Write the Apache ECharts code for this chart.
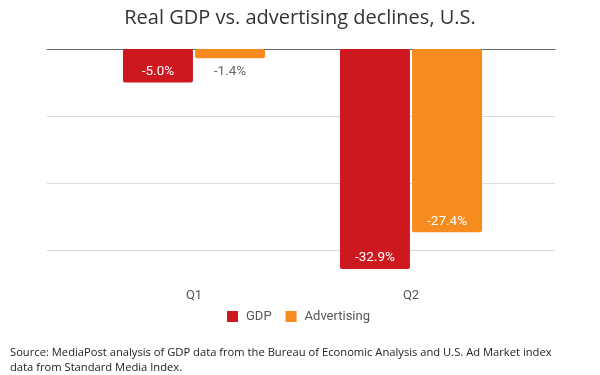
<!DOCTYPE html>
<html>
<head>
<meta charset="utf-8">
<script src="https://cdn.jsdelivr.net/npm/echarts@6/dist/echarts.min.js"></script>
<style>html,body{margin:0;padding:0;background:#fff}#c{width:600px;height:375px}</style>
</head>
<body>
<div id="c"></div>
<script>
const categories = ['Q1', 'Q2'];
const gdpValues = [-5.0, -32.9];
const adValues = [-1.4, -27.4];
const seriesNames = ['GDP', 'Advertising'];
const titleText = 'Real GDP vs. advertising declines, U.S.';
const sourceText = 'Source: MediaPost analysis of GDP data from the Bureau of Economic Analysis and U.S. Ad Market index\ndata from Standard Media Index.';

const RED = '#cd1820', ORANGE = '#f68b1f';

function mkData(vals) {
  return vals.map(v => {
    const small = Math.abs(v) < 3;
    return {
      value: v,
      label: small
        ? { position: 'bottom', distance: 6, color: '#666' }
        : { position: 'insideBottom', distance: 4, color: '#fff' }
    };
  });
}

const chart = echarts.init(document.getElementById('c'), null, { renderer: 'canvas' });
chart.setOption({
  animation: false,
  title: [
    { text: titleText, left: 'center', top: 3,
      textStyle: { fontFamily: 'Open Sans', fontWeight: 'normal', fontSize: 20, color: '#333' } },
    { text: sourceText, left: 5, top: 341,
      textStyle: { fontFamily: 'Open Sans', fontWeight: 'normal', fontSize: 11.2, lineHeight: 14.5, color: '#222' } }
  ],
  legend: {
    data: seriesNames, top: 305, left: 222, icon: 'rect',
    itemWidth: 11, itemHeight: 11, itemGap: 14,
    textStyle: { fontFamily: 'Roboto', fontSize: 13, color: '#555', padding: [0, 0, 0, 3] }
  },
  grid: [
    { left: 47, right: 45, top: 49, bottom: 58 },
    { left: 85.5, right: 80.5, top: 49, bottom: 92 }
  ],
  xAxis: [
    { gridIndex: 0, type: 'category', data: categories, position: 'top',
      axisLine: { show: true, onZero: false, lineStyle: { color: '#666', width: 1 } },
      axisTick: { show: false }, axisLabel: { show: false }, splitLine: { show: false } },
    { gridIndex: 1, type: 'category', data: categories, position: 'bottom',
      axisLine: { show: false, onZero: false }, axisTick: { show: false },
      axisLabel: { margin: 6, fontFamily: 'Roboto', fontSize: 13, color: '#555' } }
  ],
  yAxis: [
    { gridIndex: 0, type: 'value', min: -40, max: 0, interval: 10,
      axisLabel: { show: false }, axisLine: { show: false }, axisTick: { show: false },
      splitLine: { show: true, showMinLine: false, showMaxLine: false, lineStyle: { color: '#d9d9d9', width: 1 } } },
    { gridIndex: 1, type: 'value', min: -35, max: 0,
      axisLabel: { show: false }, axisLine: { show: false }, axisTick: { show: false },
      splitLine: { show: false } }
  ],
  series: [
    { name: seriesNames[0], type: 'bar', xAxisIndex: 1, yAxisIndex: 1,
      data: mkData(gdpValues), barWidth: 70, barGap: '3%',
      itemStyle: { color: RED, borderRadius: 2 },
      label: { show: true, fontFamily: 'Roboto', fontSize: 13.5, formatter: p => p.value.toFixed(1) + '%' } },
    { name: seriesNames[1], type: 'bar', xAxisIndex: 1, yAxisIndex: 1,
      data: mkData(adValues), barWidth: 70, barGap: '3%',
      itemStyle: { color: ORANGE, borderRadius: 2 },
      label: { show: true, fontFamily: 'Roboto', fontSize: 13.5, formatter: p => p.value.toFixed(1) + '%' } }
  ]
});
</script>
</body>
</html>
